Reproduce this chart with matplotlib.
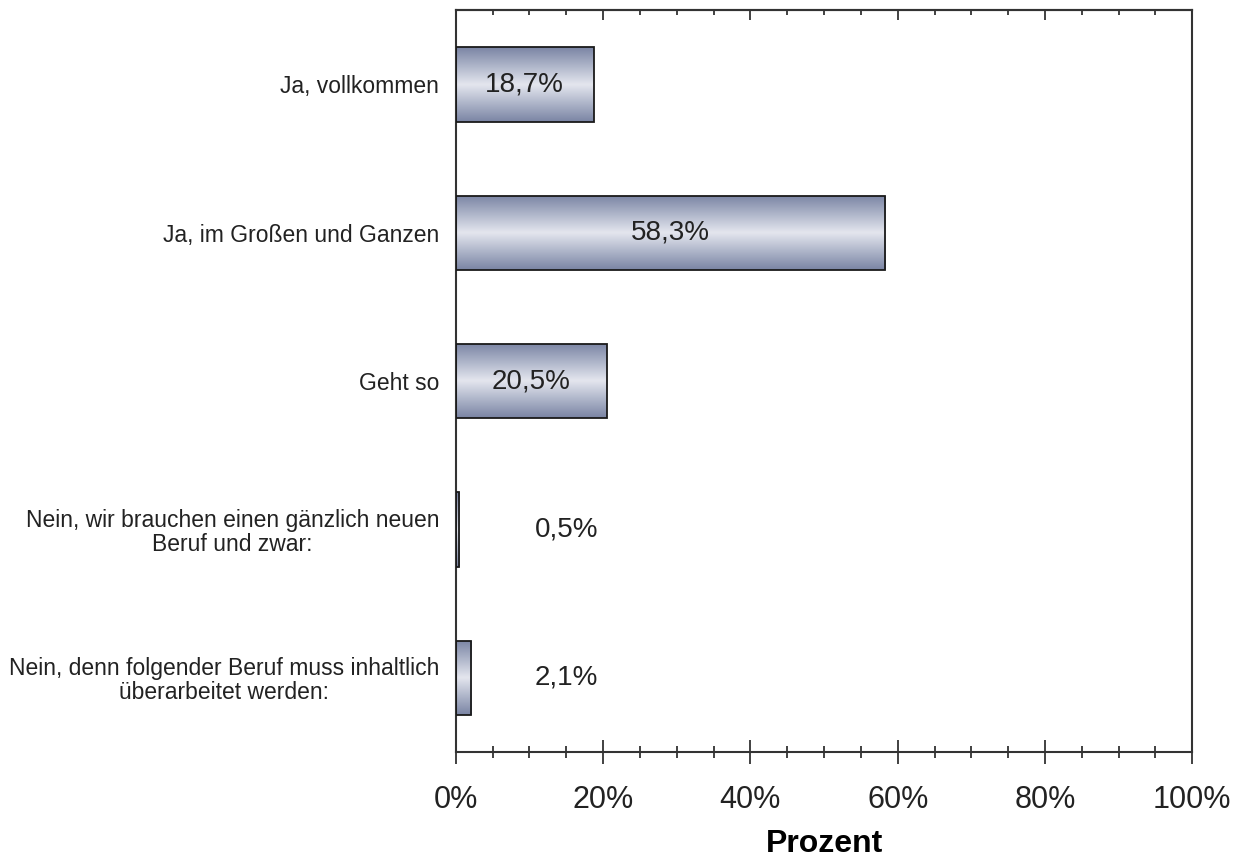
import numpy as np
import matplotlib.pyplot as plt
from matplotlib.colors import LinearSegmentedColormap
from matplotlib.ticker import MultipleLocator, FuncFormatter, NullFormatter

plt.rcParams['font.family'] = ['Liberation Sans', 'DejaVu Sans']

categories = [
    "Ja, vollkommen",
    "Ja, im Großen und Ganzen",
    "Geht so",
    "Nein, wir brauchen einen gänzlich neuen\nBeruf und zwar:",
    "Nein, denn folgender Beruf muss inhaltlich\nüberarbeitet werden:",
]
values = [18.7, 58.3, 20.5, 0.5, 2.1]
value_labels = ["18,7%", "58,3%", "20,5%", "0,5%", "2,1%"]

fig = plt.figure(figsize=(12.42, 8.58), dpi=100)
ax = fig.add_axes([0.367, 0.1235, 0.593, 0.8645])

y = np.arange(len(categories))
bar_h = 0.5
bars = ax.barh(y, values, height=bar_h, color='none', edgecolor='#1a1a1a',
               linewidth=1.3, zorder=3)

# vertical gradient: dark edges, light middle
grad_cmap = LinearSegmentedColormap.from_list(
    'barfill', ['#7a84a4', '#aeb5c9', '#e4e6ee', '#aeb5c9', '#7a84a4'])
grad = np.linspace(0, 1, 256).reshape(-1, 1)
for b in bars:
    x0, y0 = b.get_x(), b.get_y()
    w, h = b.get_width(), b.get_height()
    im = ax.imshow(grad, cmap=grad_cmap, aspect='auto',
                   extent=[x0, x0 + w, y0 + h, y0], zorder=2,
                   interpolation='bicubic')
    im.set_clip_path(b)

for yi, v, lab in zip(y, values, value_labels):
    xpos = v / 2 if v > 10 else 15
    ax.text(xpos, yi, lab, ha='center', va='center', fontsize=20,
            color='#222222', zorder=4)

ax.set_xlim(0, 100)
ax.set_ylim(len(categories) - 0.5, -0.5)
ax.set_yticks(y)
ax.set_yticklabels(categories, fontsize=16.5, multialignment='center',
                   color='#222222', linespacing=1.05)
ax.tick_params(axis='y', length=0, pad=12)

ax.xaxis.set_major_locator(MultipleLocator(20))
ax.xaxis.set_minor_locator(MultipleLocator(5))
ax.xaxis.set_major_formatter(FuncFormatter(lambda v, p: f"{v:.0f}%"))
ax.tick_params(axis='x', which='major', direction='inout', length=17,
               width=1.3, labelsize=22, pad=15, color='#333333',
               labelcolor='#222222')
ax.tick_params(axis='x', which='minor', direction='inout', length=8,
               width=1.3, color='#333333')

# top axis: inward ticks only
top = ax.secondary_xaxis('top')
top.xaxis.set_major_locator(MultipleLocator(20))
top.xaxis.set_minor_locator(MultipleLocator(5))
top.xaxis.set_major_formatter(NullFormatter())
top.tick_params(axis='x', which='major', direction='in', length=7,
                width=1.3, color='#333333')
top.tick_params(axis='x', which='minor', direction='in', length=3.5,
                width=1.3, color='#333333')
top.spines['top'].set_linewidth(1.5)
top.spines['top'].set_color('#333333')

for sp in ax.spines.values():
    sp.set_linewidth(1.5)
    sp.set_color('#333333')

ax.set_xlabel('Prozent', fontsize=23, fontweight='bold', labelpad=10)

fig.savefig('out.png', dpi=100)
